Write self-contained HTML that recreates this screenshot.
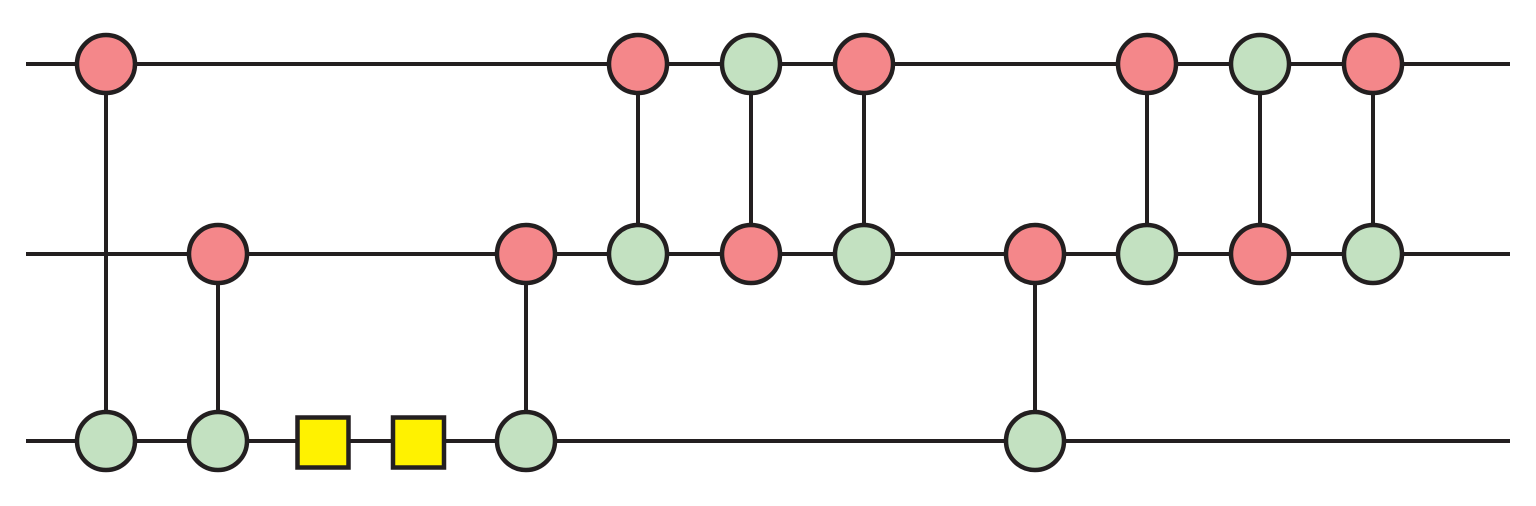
<!DOCTYPE html>
<html><head><meta charset="utf-8"><style>html,body{margin:0;padding:0;background:#fff}svg{display:block}</style></head><body>
<svg width="1536" height="506" viewBox="0 0 1536 506" xmlns="http://www.w3.org/2000/svg">
<g stroke="#231f20" stroke-width="4" fill="none">
<line x1="26" y1="64" x2="1510" y2="64"/>
<line x1="26" y1="254" x2="1510" y2="254"/>
<line x1="26" y1="441" x2="1510" y2="441"/>
<line x1="106" y1="64" x2="106" y2="441"/>
<line x1="218" y1="254" x2="218" y2="441"/>
<line x1="526" y1="254" x2="526" y2="441"/>
<line x1="638" y1="64" x2="638" y2="254"/>
<line x1="751" y1="64" x2="751" y2="254"/>
<line x1="864" y1="64" x2="864" y2="254"/>
<line x1="1035" y1="254" x2="1035" y2="441"/>
<line x1="1147" y1="64" x2="1147" y2="254"/>
<line x1="1260" y1="64" x2="1260" y2="254"/>
<line x1="1373" y1="64" x2="1373" y2="254"/>
</g>
<g stroke="#231f20" stroke-width="4.5">
<g fill="#f4878a">
<circle cx="106" cy="64" r="29"/>
<circle cx="638" cy="64" r="29"/>
<circle cx="864" cy="64" r="29"/>
<circle cx="1147" cy="64" r="29"/>
<circle cx="1373" cy="64" r="29"/>
<circle cx="218" cy="254" r="29"/>
<circle cx="526" cy="254" r="29"/>
<circle cx="751" cy="254" r="29"/>
<circle cx="1035" cy="254" r="29"/>
<circle cx="1260" cy="254" r="29"/>
</g>
<g fill="#c3e1c1">
<circle cx="751" cy="64" r="29"/>
<circle cx="1260" cy="64" r="29"/>
<circle cx="638" cy="254" r="29"/>
<circle cx="864" cy="254" r="29"/>
<circle cx="1147" cy="254" r="29"/>
<circle cx="1373" cy="254" r="29"/>
<circle cx="106" cy="441" r="29"/>
<circle cx="218" cy="441" r="29"/>
<circle cx="526" cy="441" r="29"/>
<circle cx="1035" cy="441" r="29"/>
</g>
<g fill="#fff200">
<rect x="297.5" y="417.5" width="51" height="50"/>
<rect x="393" y="417.5" width="51" height="50"/>
</g>
</g>
</svg>
</body></html>
